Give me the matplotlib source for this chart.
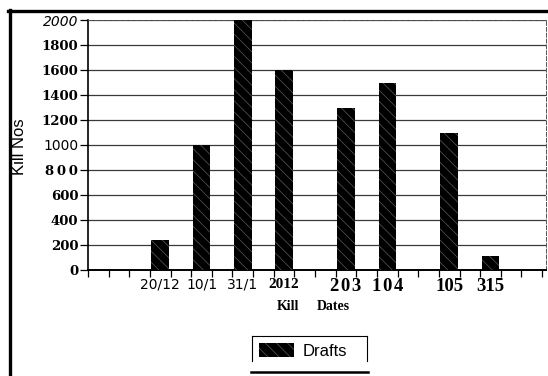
import numpy as np
import matplotlib
matplotlib.use("Agg")
import matplotlib.pyplot as plt
from matplotlib.lines import Line2D
from matplotlib.font_manager import FontProperties

# Kill dates on a 22-slot category axis; only some slots carry a bar
n_slots = 22
slot_index = [3, 5, 7, 9, 12, 14, 17, 19]
date_labels = ["20/12", "10/1", "31/1", "2012", "2\u200a0\u200a3", "1\u200a0\u200a4", "105", "315"]
drafts = [240, 1000, 2000, 1600, 1300, 1500, 1100, 110]

y_ticks = [0, 200, 400, 600, 800, 1000, 1200, 1400, 1600, 1800, 2000]
y_tick_labels = ["0", "200", "400", "600", "8\u200a\u200a0\u200a\u200a0", "1000", "1200", "1400",
                 "1600", "1800", "2000"]

W, H = 548, 376
fig = plt.figure(figsize=(W / 100, H / 100), dpi=100)
plt.rcParams["hatch.linewidth"] = 0.5

def px(x, y):
    return x / W, 1 - y / H

ax_l, ax_r, ax_t, ax_b = 88, 546, 20, 270
ax = fig.add_axes([ax_l / W, 1 - ax_b / H, (ax_r - ax_l) / W, (ax_b - ax_t) / H])

slot_px = 20.64
ax.set_xlim(-0.5, -0.5 + (ax_r - ax_l) / slot_px)
ax.set_ylim(0, 2000)

bars = ax.bar(slot_index, drafts, width=0.85, color="black", edgecolor="#5a5a5a",
              hatch="\\\\\\", linewidth=0, zorder=3, label="Drafts")

# gridlines and frame
ax.set_yticks(y_ticks)
ax.yaxis.grid(True, color="#3a3a3a", linewidth=0.9, zorder=0)
ax.set_axisbelow(True)
for side in ("top", "right"):
    ax.spines[side].set_color("#555555")
    ax.spines[side].set_linewidth(0.7)
    ax.spines[side].set_linestyle((0, (4, 2)))
ax.spines["left"].set_linewidth(1.2)
ax.spines["bottom"].set_linewidth(1.4)

# x axis: tick marks at slot boundaries, labels at bar positions
ax.set_xticks(np.arange(-0.5, n_slots, 1.0))
ax.set_xticklabels([])
ax.tick_params(axis="x", which="major", direction="out", length=5, width=0.9)
ax.set_xticks(slot_index, labels=date_labels, minor=True)
ax.tick_params(axis="x", which="minor", length=0, pad=5.5)

x_fonts = [
    FontProperties(family="DejaVu Sans", size=10),
    FontProperties(family="DejaVu Sans", size=10),
    FontProperties(family="DejaVu Sans", size=10),
    FontProperties(family="Liberation Serif", weight="bold", size=11),
    FontProperties(family="Liberation Serif", weight="bold", size=13.5),
    FontProperties(family="Liberation Serif", weight="bold", size=13.5),
    FontProperties(family="Liberation Serif", weight="bold", size=13.5),
    FontProperties(family="Liberation Serif", weight="bold", size=13.5),
]
for lab, fp in zip(ax.get_xticklabels(minor=True), x_fonts):
    lab.set_fontproperties(fp)

ax.set_yticklabels(y_tick_labels)
ax.tick_params(axis="y", direction="out", length=6, width=0.9, pad=1)
serif_b = FontProperties(family="DejaVu Serif", weight="bold", size=9.5)
y_fonts = [serif_b, serif_b, serif_b, serif_b, serif_b,
           FontProperties(family="DejaVu Sans", size=10),
           serif_b, serif_b, serif_b, serif_b,
           FontProperties(family="DejaVu Sans", style="italic", size=10)]
for lab, fp in zip(ax.get_yticklabels(), y_fonts):
    lab.set_fontproperties(fp)

# axis titles
fig.text(*px(19, 147), "Kill Nos", rotation=90, ha="center", va="center",
         family="Liberation Sans", fontsize=12)
fig.text(*px(288, 306), "Kill", ha="center", va="center",
         family="Liberation Serif", weight="bold", fontsize=10)
fig.text(*px(333, 306), "Dates", ha="center", va="center",
         family="Liberation Serif", weight="bold", fontsize=10)

# legend
leg = fig.legend(handles=[bars], labels=["Drafts"], loc="center left",
                 bbox_to_anchor=px(259, 351), frameon=False,
                 prop=FontProperties(family="Liberation Sans", size=12),
                 handlelength=2.1, handleheight=0.9, handletextpad=0.5,
                 borderpad=0, borderaxespad=0)

lines = [
    ((9.5, 9.5), (10, H)),          # outer frame, left
    ((8, W), (10.5, 10.5)),         # outer frame, top
]
for xs, ys in lines:
    fig.add_artist(Line2D([x / W for x in xs], [1 - y / H for y in ys],
                          color="black", linewidth=2.4))
legend_box = [
    ((252, 367), (336, 336)),
    ((252, 252), (336, 361)),
    ((367, 367), (336, 361)),
]
for xs, ys in legend_box:
    fig.add_artist(Line2D([x / W for x in xs], [1 - y / H for y in ys],
                          color="black", linewidth=0.8))
fig.add_artist(Line2D([251 / W, 368 / W], [1 - 372 / H] * 2, color="black", linewidth=1.8))

fig.savefig("out.png", dpi=100)
